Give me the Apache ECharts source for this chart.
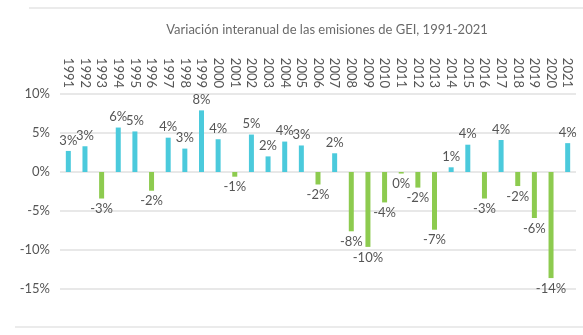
<!DOCTYPE html>
<html>
<head>
<meta charset="utf-8">
<script src="https://cdn.jsdelivr.net/npm/echarts@6/dist/echarts.min.js"></script>
<style>
  html, body { margin: 0; padding: 0; background: #ffffff; }
  #chart { width: 583px; height: 335px; }
</style>
</head>
<body>
<div id="chart"></div>
<script>
// Year-on-year change in GHG emissions (%), 1991-2021
const years = ['1991','1992','1993','1994','1995','1996','1997','1998','1999','2000',
  '2001','2002','2003','2004','2005','2006','2007','2008','2009','2010',
  '2011','2012','2013','2014','2015','2016','2017','2018','2019','2020','2021'];
const changes = [2.7, 3.3, -3.4, 5.7, 5.2, -2.4, 4.4, 3.0, 7.9, 4.2,
  -0.6, 4.8, 2.0, 3.9, 3.4, -1.6, 2.4, -7.6, -9.6, -3.9,
  -0.2, -2.0, -7.4, 0.6, 3.5, -3.4, 4.1, -1.8, -5.9, -13.6, 3.7];
const yTicks = { min: -15, max: 10, step: 5 };
const titleText = 'Variación interanual de las emisiones de GEI, 1991-2021';

const UP = '#4BCADC';
const DOWN = '#8DCB4F';
const FONT = 'Lato, "Open Sans", sans-serif';

const chart = echarts.init(document.getElementById('chart'), null, { renderer: 'canvas' });

chart.setOption({
  animation: false,
  backgroundColor: '#ffffff',
  title: {
    text: titleText,
    left: 322,
    textAlign: 'center',
    top: 18,
    textStyle: { fontFamily: FONT, fontSize: 13, fontWeight: 'normal', color: '#6a6a6a' }
  },
  graphic: [
    { type: 'line', shape: { x1: 29, y1: 8, x2: 583, y2: 8 }, style: { stroke: '#ebebeb', lineWidth: 2 } },
    { type: 'line', shape: { x1: 15, y1: 327, x2: 583, y2: 327 }, style: { stroke: '#ebebeb', lineWidth: 2 } }
  ],
  grid: { left: 60, right: 7, top: 94, bottom: 46, containLabel: false },
  xAxis: {
    type: 'category',
    data: years,
    position: 'top',
    axisLine: { show: false, onZero: false },
    axisTick: { show: false },
    axisLabel: { rotate: 90, interval: 0, margin: 6, fontFamily: FONT, fontSize: 13, color: '#555555' }
  },
  yAxis: {
    type: 'value',
    min: yTicks.min,
    max: yTicks.max,
    interval: yTicks.step,
    axisLine: { show: false },
    axisTick: { show: false },
    axisLabel: { formatter: '{value}%', margin: 10, fontFamily: FONT, fontSize: 13, color: '#555555' },
    splitLine: { lineStyle: { color: '#e8e8e8', width: 2 } }
  },
  series: [{
    type: 'bar',
    barWidth: 5,
    data: changes.map(v => ({
      value: v,
      itemStyle: { color: v >= 0 ? UP : DOWN },
      label: { position: v >= 0 ? 'top' : 'bottom' }
    })),
    label: {
      show: true,
      distance: 4,
      fontFamily: FONT,
      fontSize: 13,
      color: '#555555',
      formatter: p => Math.round(p.value) + '%'
    }
  }]
});
</script>
</body>
</html>
